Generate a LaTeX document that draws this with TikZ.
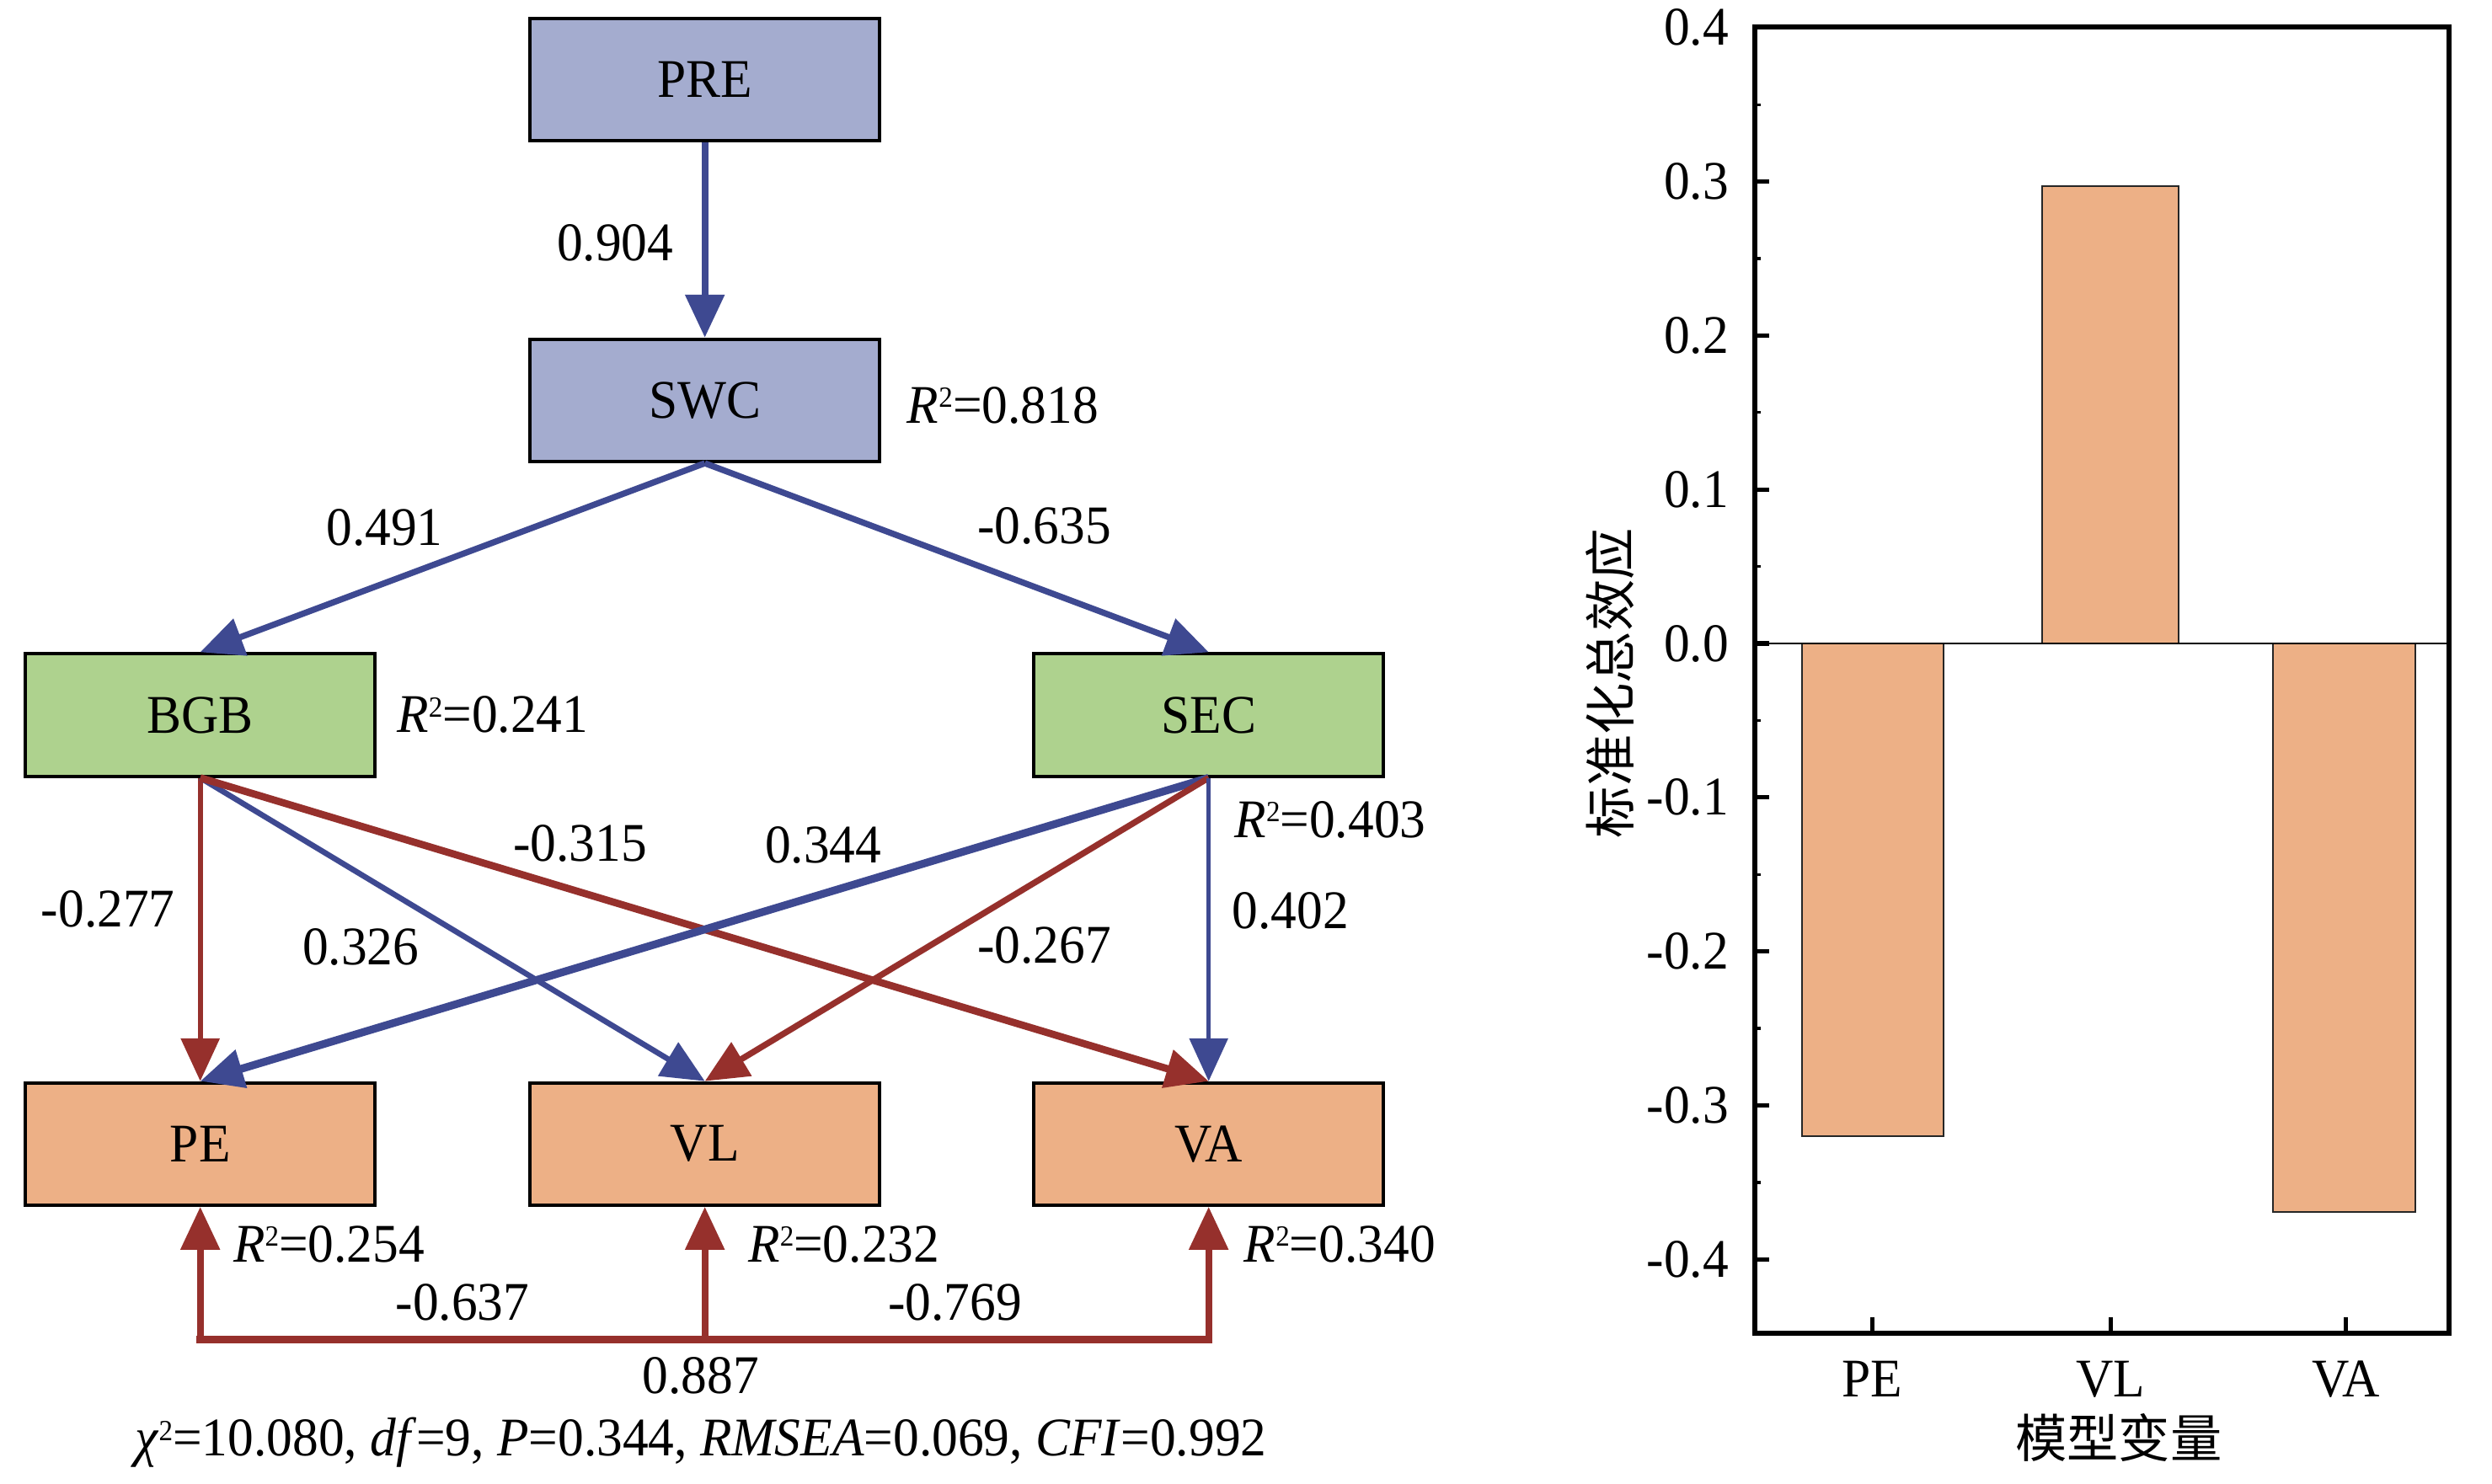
\documentclass[tikz,border=0pt]{standalone}
\usepackage{fontspec}
\setmainfont[FakeStretch=0.95]{Liberation Serif}
\newfontfamily\cjk{Noto Sans CJK SC}
\usetikzlibrary{arrows.meta,positioning}

\definecolor{boxblue}{RGB}{164,172,207}
\definecolor{boxgreen}{RGB}{174,210,142}
\definecolor{boxorange}{RGB}{237,176,134}
\definecolor{pathblue}{RGB}{62,73,145}
\definecolor{pathred}{RGB}{150,48,44}

\newcommand{\sqsup}{\raisebox{5.6pt}{\fontsize{10.5}{10.5}\selectfont 2}}
\newcommand{\rsq}[1]{\textit{R}\sqsup=#1}

\tikzset{%
	varbox/.style   = {draw, rectangle, line width=1.2pt, minimum width=4.4cm, minimum height=1.54cm, inner sep=0pt, text centered},
	bluepath/.style = {draw=pathblue, line width=2.4pt, -{Triangle[length=0.54cm,width=0.48cm]}},
	redpath/.style  = {draw=pathred, line width=2.4pt, -{Triangle[length=0.54cm,width=0.48cm]}},
	coef/.style     = {inner sep=0pt},
	bar/.style      = {fill=boxorange, draw=black!85, line width=0.6pt},
}

\begin{document}
\begin{tikzpicture}[x=0.02cm,y=-0.02cm,font=\fontsize{19.5}{23}\selectfont]
	\useasboundingbox (0,0) rectangle (1568,934);
	% path model
	\node[varbox, fill=boxblue]   (PRE) at (443.5,50)  {PRE};
	\node[varbox, fill=boxblue]   (SWC) at (443.5,252) {SWC};
	\node[varbox, fill=boxgreen]  (BGB) at (126,450)   {BGB};
	\node[varbox, fill=boxgreen]  (SEC) at (760.5,450) {SEC};
	\node[varbox, fill=boxorange] (PE)  at (126,720)   {PE};
	\node[varbox, fill=boxorange] (VL)  at (443.5,720) {VL};
	\node[varbox, fill=boxorange] (VA)  at (760.5,720) {VA};

	\draw[bluepath] (PRE) -- (SWC);
	\draw[bluepath, line width=2.2pt] (SWC.south) -- (BGB.north);
	\draw[bluepath, line width=2.2pt] (SWC.south) -- (SEC.north);
	\draw[redpath,  line width=1.8pt] (BGB.south) -- (PE.north);
	\draw[bluepath, line width=2pt] (BGB.south) -- (VL.north);
	\draw[redpath,  line width=2.6pt] (BGB.south) -- (VA.north);
	\draw[bluepath, line width=2.8pt] (SEC.south) -- (PE.north);
	\draw[redpath,  line width=2.2pt] (SEC.south) -- (VL.north);
	\draw[bluepath, line width=1.5pt] (SEC.south) -- (VA.north);

	% covariances
	\coordinate (cPE) at (126,843);
	\coordinate (cVL) at (443.5,843);
	\coordinate (cVA) at (760.5,843);
	\draw[draw=pathred, line width=2.6pt, line cap=rect] (cPE) -- (cVA);
	\draw[redpath] (cPE) -- (PE.south);
	\draw[redpath] (cVL) -- (VL.south);
	\draw[redpath] (cVA) -- (VA.south);

	\node[coef] (l904) at (387,153) {0.904};
	\node[coef] (rSWC) at (631,255) {\rsq{0.818}};
	\node[coef] (l491) at (242,332) {0.491};
	\node[coef] (l635) at (657,331) {-0.635};
	\node[coef] (rBGB) at (310,450) {\rsq{0.241}};
	\node[coef] (rSEC) at (837,516) {\rsq{0.403}};
	\node[coef] (l277) at (68,572)  {-0.277};
	\node[coef] (l315) at (365,531) {-0.315};
	\node[coef] (l344) at (518,532) {0.344};
	\node[coef] (l326) at (227,596) {0.326};
	\node[coef] (l267) at (657,595) {-0.267};
	\node[coef] (l402) at (812,573) {0.402};
	\node[coef] (rPE)  at (207,783) {\rsq{0.254}};
	\node[coef] (rVL)  at (531,783) {\rsq{0.232}};
	\node[coef] (rVA)  at (843,783) {\rsq{0.340}};
	\node[coef] (l637) at (291,820) {-0.637};
	\node[coef] (l769) at (601,820) {-0.769};
	\node[coef] (l887) at (441,866) {0.887};
	\node[coef] (fit)  at (441,908) {\textit{χ}\sqsup=10.080, \textit{df}=9, \textit{P}=0.344, \textit{RMSEA}=0.069, \textit{CFI}=0.992};

	% total effects
	\draw[bar] (1134,405) rectangle (1223,715);
	\draw[bar] (1285,405) rectangle (1371,117);
	\draw[bar] (1430,405) rectangle (1520,763);
	\draw[line width=0.8pt] (1104,405) -- (1541,405);
	\foreach \k/\lab in {4/0.4,3/0.3,2/0.2,1/0.1,0/0.0,-1/-0.1,-2/-0.2,-3/-0.3,-4/-0.4}
		\draw[line width=1.6pt] (1104,405-96.9*\k) -- ++(9,0)
			node[coef, anchor=east, xshift=-0.3cm] (tick\k) at (1104,405-96.9*\k) {\lab};
	\foreach \k in {3.5,2.5,1.5,0.5,-0.5,-1.5,-2.5,-3.5}
		\draw[line width=1pt] (1104,405-96.9*\k) -- ++(4,0);
	\foreach \x/\lab in {1178/PE,1328/VL,1476/VA} {
		\draw[line width=1.6pt] (\x,839) -- ++(0,-10);
		\node[coef] (xt\lab) at (\x,868) {\lab};
	}
	\draw[line width=1.7pt] (1104,17) rectangle (1541,839);
	\node[coef, rotate=90] (ylabel) at (1013,430) {\cjk\fontsize{18.5}{20}\selectfont 标准化总效应};
	\node[coef] (xlabel) at (1333,905) {\cjk\fontsize{18.5}{20}\selectfont 模型变量};
\end{tikzpicture}
\end{document}
